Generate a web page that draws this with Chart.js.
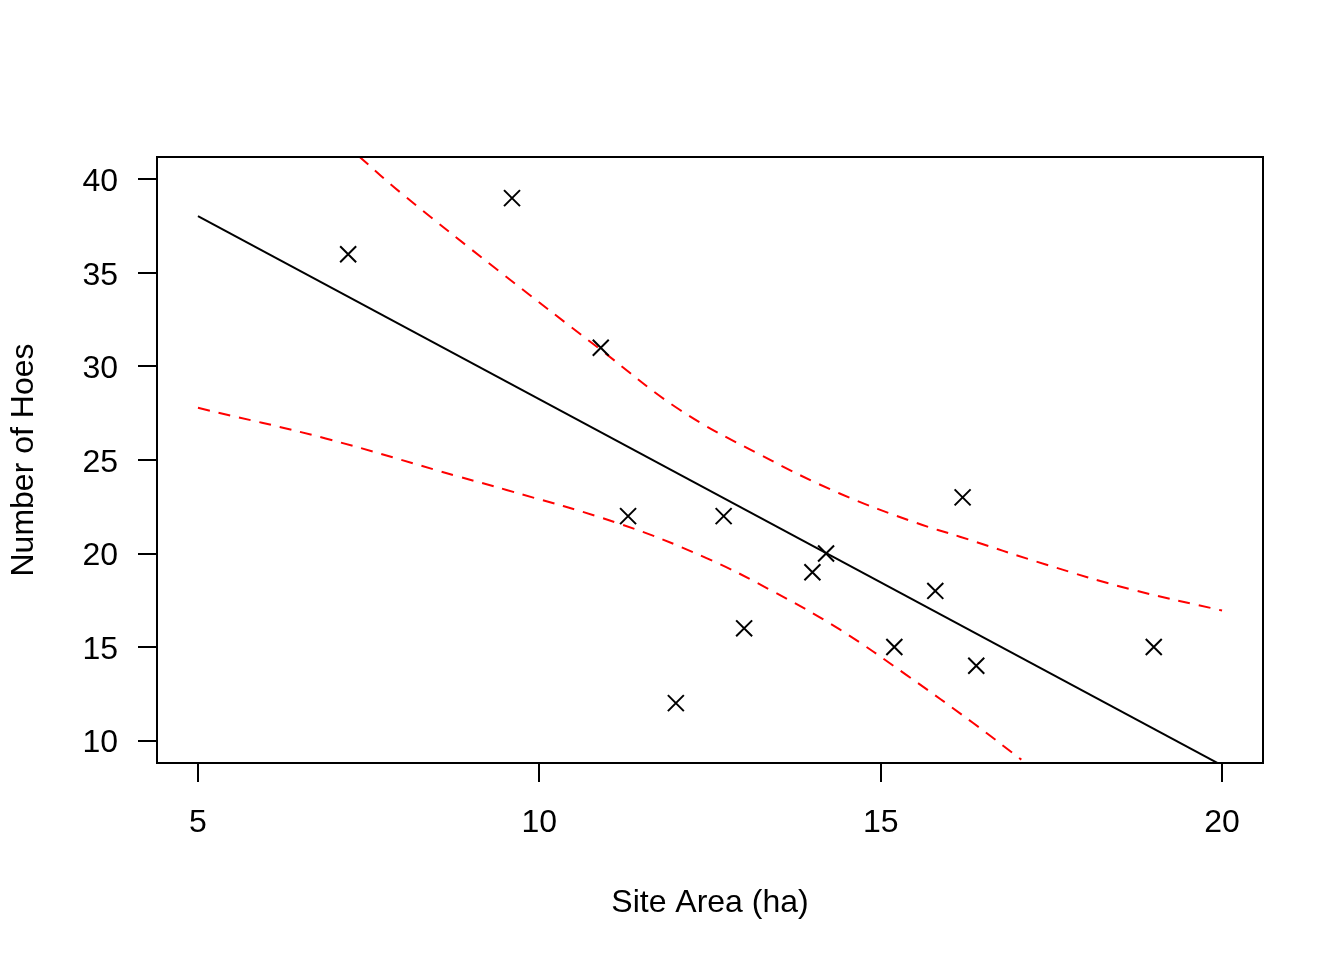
<!DOCTYPE html>
<html>
<head>
<meta charset="utf-8">
<title>Number of Hoes vs Site Area</title>
<script src="https://cdn.jsdelivr.net/npm/chart.js@4.4.1/dist/chart.umd.min.js"></script>
<style>
  html, body { margin: 0; padding: 0; background: #fff; }
  canvas { display: block; }
</style>
</head>
<body>
<canvas id="chart" width="1344" height="960"></canvas>
<script>
// observed sites
const siteArea = [7.2, 9.6, 10.9, 11.3, 12.0, 12.7, 13.0, 14.0, 14.2, 15.2, 15.8, 16.2, 16.4, 19.0];
const hoes = [36, 39, 31, 22, 12, 22, 16, 19, 20, 15, 18, 23, 14, 15];

// fitted line
const fitX = [5, 20];
const fitY = [38.04, 8.67];

// confidence band
const upperX = [7.36, 8.0, 9.41, 10.88, 12.05, 13.23, 14.4, 15.52, 16.16, 17.43, 18.65, 20.0];
const upperY = [41.23, 39.2, 35.1, 30.95, 27.7, 25.29, 23.21, 21.64, 20.9, 19.4, 18.1, 16.95];
const lowerX = [5.0, 6.87, 8.83, 9.52, 11.17, 12.44, 13.42, 14.4, 15.38, 16.35, 17.06];
const lowerY = [27.79, 26.15, 24.1, 23.4, 21.6, 19.77, 17.98, 15.94, 13.5, 10.95, 8.98];

// axes
const xTicks = [5, 10, 15, 20];
const yTicks = [10, 15, 20, 25, 30, 35, 40];
const xRange = [4.4, 20.6];
const yRange = [8.8, 41.2];

function toPoints(xs, ys) {
    const pts = [];
    for (let i = 0; i < xs.length; i++) {
        pts.push({ x: xs[i], y: ys[i] });
    }
    return pts;
}

function fixedTicks(values) {
    return function (axis) {
        axis.ticks = values.map(function (v) { return { value: v }; });
    };
}

// R style box around the plot region
const boxPlugin = {
    id: 'box',
    afterDatasetsDraw(chart) {
        const a = chart.chartArea;
        const ctx = chart.ctx;
        ctx.save();
        ctx.strokeStyle = '#000';
        ctx.lineWidth = 2;
        ctx.strokeRect(a.left, a.top, a.right - a.left, a.bottom - a.top);
        ctx.restore();
    }
};

Chart.defaults.font.family = '"Liberation Sans", Arial, Helvetica, sans-serif';
Chart.defaults.font.size = 32;
Chart.defaults.color = '#000';

const ctx = document.getElementById('chart');

new Chart(ctx, {
    type: 'scatter',
    data: {
        datasets: [
            {
                label: 'Sites',
                data: toPoints(siteArea, hoes),
                pointStyle: 'crossRot',
                pointRadius: 11.3,
                pointHoverRadius: 11.3,
                pointBorderWidth: 2,
                borderColor: '#000',
                backgroundColor: '#000',
                showLine: false,
                clip: 0
            },
            {
                label: 'Fit',
                data: toPoints(fitX, fitY),
                showLine: true,
                pointRadius: 0,
                borderColor: '#000',
                borderWidth: 2,
                clip: 0
            },
            {
                label: 'Upper',
                data: toPoints(upperX, upperY),
                showLine: true,
                pointRadius: 0,
                borderColor: '#ff0000',
                borderWidth: 2,
                borderDash: [12, 9],
                tension: 0.4,
                clip: 0
            },
            {
                label: 'Lower',
                data: toPoints(lowerX, lowerY),
                showLine: true,
                pointRadius: 0,
                borderColor: '#ff0000',
                borderWidth: 2,
                borderDash: [12, 9],
                tension: 0.4,
                clip: 0
            }
        ]
    },
    options: {
        responsive: false,
        animation: false,
        devicePixelRatio: 1,
        layout: { padding: { left: 0, top: 157, right: 81, bottom: 0 } },
        plugins: {
            legend: { display: false },
            tooltip: { enabled: false }
        },
        scales: {
            x: {
                type: 'linear',
                min: xRange[0],
                max: xRange[1],
                afterBuildTicks: fixedTicks(xTicks),
                afterFit: function (scale) { scale.height = 197; },
                grid: {
                    drawOnChartArea: false,
                    drawTicks: true,
                    tickLength: 19,
                    color: '#000',
                    lineWidth: 2
                },
                border: { display: false },
                ticks: { padding: 22, maxRotation: 0, color: '#000' },
                title: {
                    display: true,
                    text: 'Site Area (ha)',
                    color: '#000',
                    font: { size: 32 },
                    padding: { top: 0, bottom: 38 }
                }
            },
            y: {
                type: 'linear',
                min: yRange[0],
                max: yRange[1],
                afterBuildTicks: fixedTicks(yTicks),
                afterFit: function (scale) { scale.width = 157; },
                grid: {
                    drawOnChartArea: false,
                    drawTicks: true,
                    tickLength: 19,
                    color: '#000',
                    lineWidth: 2
                },
                border: { display: false },
                ticks: { padding: 20, labelOffset: 3, color: '#000' },
                title: {
                    display: true,
                    text: 'Number of Hoes',
                    color: '#000',
                    font: { size: 32 },
                    padding: { top: 5, bottom: 0 }
                }
            }
        }
    },
    plugins: [boxPlugin]
});
</script>
</body>
</html>
